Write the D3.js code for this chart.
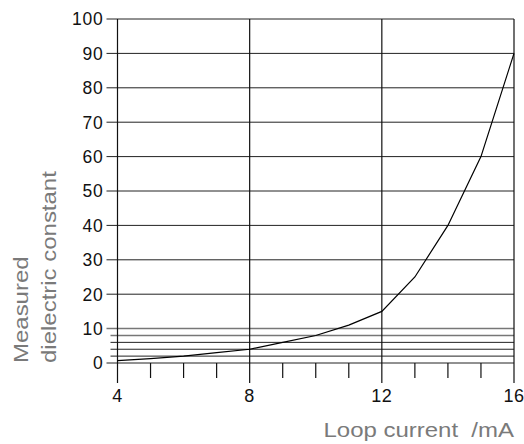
<!DOCTYPE html>
<html>
<head>
<meta charset="utf-8">
<script src="https://cdn.jsdelivr.net/npm/d3@7"></script>
<style>
  body { margin: 0; background: #fff; }
  svg { display: block; font-family: "Liberation Sans", Arial, sans-serif; }
  .title { white-space: pre; }
</style>
</head>
<body>
<svg width="524" height="444"></svg>
<script>
// data
const current = [4, 5, 6, 7, 8, 9, 10, 11, 12, 13, 14, 15, 16];
const dielectric = [0.7, 1.3, 2, 3, 4, 6, 8, 11, 15, 25, 40, 60, 90];
const yTicks = [0, 10, 20, 30, 40, 50, 60, 70, 80, 90, 100];
const yMinor = [2, 4, 6, 8];
const xTicks = [4, 8, 12, 16];

const svg = d3.select("svg");
const margin = {top: 19, right: 10, bottom: 81, left: 117.5};
const W = 524, H = 444;

const x = d3.scaleLinear().domain([4, 16]).range([margin.left, W - margin.right]);
const y = d3.scaleLinear().domain([0, 100]).range([H - margin.bottom, margin.top]);

const g = svg.append("g");

// horizontal grid lines
g.selectAll(".hgrid").data(yTicks)
  .enter().append("line")
    .attr("x1", x(4) - 11).attr("x2", x(16))
    .attr("y1", d => y(d)).attr("y2", d => y(d))
    .attr("stroke", d => d == 10 ? "#777" : "#222")
    .attr("stroke-width", d => d == 10 ? 1.5 : 1);

g.selectAll(".hminor").data(yMinor)
  .enter().append("line")
    .attr("x1", x(4) - 7).attr("x2", x(16))
    .attr("y1", d => y(d)).attr("y2", d => y(d))
    .attr("stroke", d => d == 8 ? "#777" : "#222")
    .attr("stroke-width", d => d == 8 ? 1.5 : 1);

// vertical lines
g.selectAll(".vgrid").data(xTicks)
  .enter().append("line")
    .attr("x1", d => x(d)).attr("x2", d => x(d))
    .attr("y1", y(100)).attr("y2", y(0) + 20)
    .attr("stroke", "#111")
    .attr("stroke-width", 1.2);

// minor x ticks
g.selectAll(".xminor").data(d3.range(5, 16).filter(d => d % 4 != 0))
  .enter().append("line")
    .attr("x1", d => x(d)).attr("x2", d => x(d))
    .attr("y1", y(0)).attr("y2", y(0) + 15)
    .attr("stroke", "#111")
    .attr("stroke-width", 1.2);

// curve
const line = d3.line()
  .x((d, i) => x(current[i]))
  .y(d => y(d));

g.append("path")
  .attr("d", line(dielectric))
  .attr("fill", "none")
  .attr("stroke", "#000")
  .attr("stroke-width", 1.2);

// tick labels
g.selectAll(".ylab").data(yTicks)
  .enter().append("text")
    .attr("x", x(4) - 14)
    .attr("y", d => y(d))
    .attr("dy", "0.36em")
    .attr("text-anchor", "end")
    .attr("font-size", 17.5)
    .attr("letter-spacing", 0.8)
    .attr("fill", "#111")
    .text(d => d);

g.selectAll(".xlab").data(xTicks)
  .enter().append("text")
    .attr("x", d => x(d))
    .attr("y", y(0) + 39)
    .attr("text-anchor", "middle")
    .attr("font-size", 18)
    .attr("letter-spacing", 0.6)
    .attr("fill", "#111")
    .text(d => d);

// axis titles (glyphs in the reference are wide, so stretch them a bit)
svg.append("text")
  .attr("class", "title")
  .attr("transform", "translate(514,437) scale(1.17,1)")
  .attr("text-anchor", "end")
  .attr("font-size", 20.5)
  .attr("fill", "#7a7a7a")
  .text("Loop current  /mA");

const yt = svg.append("text")
  .attr("class", "title")
  .attr("transform", "translate(28,363) rotate(-90) scale(1.17,1)")
  .attr("text-anchor", "start")
  .attr("font-size", 20.5)
  .attr("fill", "#7a7a7a");
yt.append("tspan").attr("x", 0).attr("y", 0).text("Measured");
yt.append("tspan").attr("x", 0).attr("y", 28).text("dielectric constant");
</script>
</body>
</html>
